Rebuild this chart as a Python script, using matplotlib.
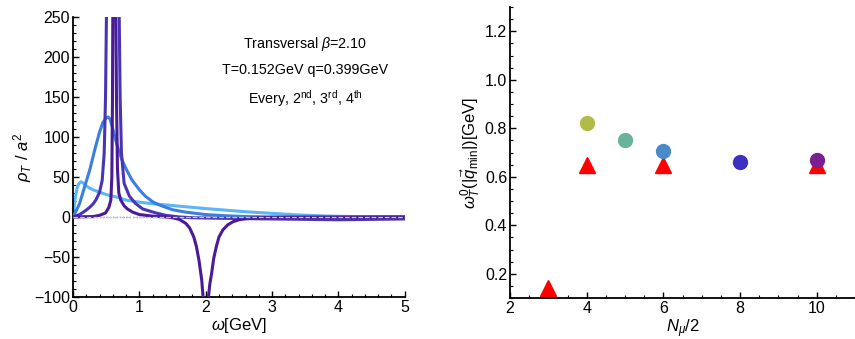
import matplotlib.pyplot as plt
from matplotlib.ticker import MultipleLocator

plt.rcParams['font.family'] = ['Liberation Sans', 'DejaVu Sans']
plt.rcParams['mathtext.fontset'] = 'custom'
plt.rcParams['mathtext.rm'] = 'Liberation Sans'
plt.rcParams['mathtext.it'] = 'Liberation Sans:italic'
plt.rcParams['mathtext.bf'] = 'Liberation Sans:bold'

# left panel: spectral functions (omega [GeV], rho_T / a^2)
w_every = [0, 0.3, 0.4, 0.49, 0.54, 0.57, 0.585, 0.595, 0.6, 0.645, 0.655, 0.67, 0.69, 0.72,
           0.77, 0.82, 0.9, 1.0, 1.2, 1.4, 1.5, 1.6, 1.7, 1.76, 1.82, 1.86, 1.9, 1.94, 1.97,
           2.03, 2.06, 2.09, 2.12, 2.16, 2.2, 2.26, 2.33, 2.41, 2.5, 2.66, 3.0, 5.0]
rho_every = [0, 0.5, 2, 5, 12, 21, 50, 150, 260, 260, 150, 60, 30, 21,
             14, 10, 6, 3, 1, 0, -1, -3, -8, -14, -25, -37, -55, -79, -110,
             -110, -85, -70, -52, -37, -25, -16, -10, -6, -3.5, -1.5, -0.5, 0]

w_2nd = [0, 0.1, 0.19, 0.25, 0.3, 0.35, 0.4, 0.44, 0.47, 0.49, 0.505, 0.695, 0.71, 0.73, 0.77,
         0.85, 0.94, 1.05, 1.25, 1.4, 1.6, 1.8, 2.5, 3.0, 3.5, 4.0, 4.5, 5.0]
rho_2nd = [0, 3, 8, 12, 16, 22, 31, 46, 80, 150, 260, 260, 150, 80, 42,
           26, 17, 10, 5, 2, 0, -1, -2, -2.5, -3, -3.5, -3, -2.5]

w_3rd = [0, 0.05, 0.1, 0.19, 0.25, 0.34, 0.4, 0.45, 0.5, 0.53, 0.56, 0.6, 0.64, 0.7, 0.74,
         0.8, 0.89, 1.0, 1.09, 1.2, 1.3, 1.5, 1.7, 2.0, 2.3, 2.6, 3.0, 5.0]
rho_3rd = [0, 8, 17, 42, 58, 88, 106, 118, 124, 125, 122, 110, 97, 80, 71,
           60, 46, 34, 26, 19, 15, 9, 6, 3, 1.5, 0.5, 0, 0]

w_4th = [0, 0.03, 0.06, 0.09, 0.12, 0.16, 0.2, 0.25, 0.3, 0.4, 0.5, 0.6, 0.7, 0.8, 1.0,
         1.2, 1.4, 1.6, 1.8, 2.0, 2.3, 2.6, 3.0, 3.4, 3.8, 4.2, 5.0]
rho_4th = [0, 22, 36, 42, 44, 42, 39, 36, 34, 31, 28, 26, 24, 21, 18.5,
           16.5, 15, 13.5, 12, 10.5, 8.5, 6.5, 4.5, 2.5, 1.2, 0.5, 0.2]

# right panel
n_half = [4, 5, 6, 8, 10]
w0 = [0.821, 0.751, 0.706, 0.66, 0.668]
w0_err = [0.02, 0.012, 0.025, 0.008, 0.01]
dot_colors = ['#b0bb4c', '#6ab39b', '#4a8ac8', '#3d2fbf', '#7a1f91']
n_tri = [3, 4, 6, 10]
w_tri = [0.14, 0.65, 0.65, 0.65]

fig = plt.figure(figsize=(8.55, 3.39), dpi=100)
ax1 = fig.add_axes([0.0854, 0.124, 0.388, 0.826])
ax2 = fig.add_axes([0.5965, 0.121, 0.4035, 0.858])

ax1.axhline(0, color='black', ls=':', lw=0.9, zorder=1)
ax1.plot(w_4th, rho_4th, color='#5cb5f5', lw=2.2, zorder=2)
ax1.plot(w_3rd, rho_3rd, color='#3a7ee0', lw=2.2, zorder=3)
ax1.plot(w_2nd, rho_2nd, color='#4835b5', lw=2.2, zorder=4)
ax1.plot(w_every, rho_every, color='#4b1a96', lw=2.2, zorder=5)
ax1.axhline(0, color='#c8c8d8', ls='--', lw=0.9, zorder=6)
ax1.set_xlim(0, 5)
ax1.set_ylim(-100, 250)
ax1.xaxis.set_major_locator(MultipleLocator(1))
ax1.xaxis.set_minor_locator(MultipleLocator(0.2))
ax1.set_yticks([-100, -50, 0, 50, 100, 150, 200, 250])
ax1.set_yticklabels(['\u2212100', '\u221250', '0', '50', '100', '150', '200', '250'])
ax1.yaxis.set_minor_locator(MultipleLocator(10))
ax1.set_xlabel(r'$\omega$[GeV]', fontsize=12, labelpad=1)
ax1.set_ylabel(r'$\rho_T\ /\ a^2$', fontsize=12, labelpad=0)

for yy, s in [(0.905, r'Transversal $\beta$=2.10'),
              (0.81, 'T=0.152GeV q=0.399GeV'),
              (0.71, r'Every, 2$^{\rm nd}$, 3$^{\rm rd}$, 4$^{\rm th}$')]:
    ax1.text(0.700, yy, s, transform=ax1.transAxes, ha='center', va='center', fontsize=10.3)

ax2.plot(n_tri, w_tri, ls='none', marker='^', color='#ff0000', markersize=11.5, zorder=2)
for x, y, e, c in zip(n_half, w0, w0_err, dot_colors):
    ax2.errorbar(x, y, yerr=e, fmt='o', color=c, markersize=10, elinewidth=1.2, capsize=0, zorder=3)
ax2.set_xlim(2, 11)
ax2.set_ylim(0.1, 1.3)
ax2.xaxis.set_major_locator(MultipleLocator(2))
ax2.xaxis.set_minor_locator(MultipleLocator(0.5))
ax2.set_yticks([0.2, 0.4, 0.6, 0.8, 1.0, 1.2])
ax2.yaxis.set_minor_locator(MultipleLocator(0.05))
ax2.set_xlabel(r'$N_\mu$/2', fontsize=12, labelpad=1)
ax2.set_ylabel(r'$\omega^0_T(|\vec{q}_{\rm min}|)$[GeV]', fontsize=12, labelpad=1)

for ax in (ax1, ax2):
    ax.spines['top'].set_visible(False)
    ax.spines['right'].set_visible(False)
    ax.spines['left'].set_linewidth(1.3)
    ax.spines['bottom'].set_linewidth(1.3)
    ax.tick_params(which='both', direction='in', labelsize=11.5, pad=2)
    ax.tick_params(which='major', length=4, width=1)
    ax.tick_params(which='minor', length=2, width=0.8)

fig.savefig('out.png', dpi=100)
